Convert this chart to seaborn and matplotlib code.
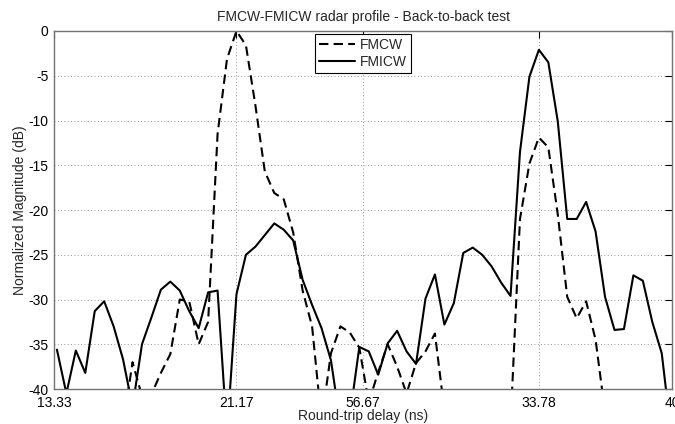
import numpy as np
import pandas as pd
import matplotlib
matplotlib.use("Agg")
import matplotlib.pyplot as plt
import seaborn as sns

# normalized magnitude (dB) per range bin
fmcw = [-46, -44, -47, -45, -48, -46, -44, -44.1, -37.0, -40.8,
        -40.6, -38.2, -36.1, -30.0, -30.2, -35.0, -32.5, -11.5, -3.1, 0.0,
        -1.6, -8.3, -15.7, -18.1, -18.8, -22.5, -29.0, -33.0, -43.6, -36.0,
        -33.0, -33.7, -35.4, -41.5, -38.1, -35.0, -37.5, -40.5, -37.1, -35.8,
        -33.8, -42.4, -47, -45, -48, -46, -47, -45, -44, -21.0,
        -14.8, -11.9, -13.0, -20.5, -29.7, -32.1, -30.2, -34.5, -42.6, -46,
        -44, -47, -45, -48, -46, -47]
fmicw = [-35.6, -40.5, -35.7, -38.2, -31.3, -30.2, -33.0, -36.7, -42.0, -35.0,
         -32.0, -28.9, -28.0, -29.0, -31.3, -33.2, -29.2, -29.0, -45.0, -29.4,
         -25.0, -24.1, -22.8, -21.5, -22.2, -23.4, -27.8, -30.6, -33.2, -36.8,
         -44.0, -43.0, -35.3, -35.8, -38.4, -34.9, -33.5, -35.8, -37.2, -29.9,
         -27.2, -32.8, -30.4, -24.8, -24.2, -25.0, -26.3, -28.1, -29.6, -13.5,
         -5.1, -2.1, -3.5, -10.1, -21.0, -21.0, -19.1, -22.4, -29.7, -33.4,
         -33.3, -27.3, -27.9, -32.5, -36.0, -45.0]

# x ticks in bin units and the labels printed on them
tick_pos = [-0.31, 19, 32.4, 51, 65.09]
tick_labels = ["13.33", "21.17", "56.67", "33.78", "40"]
y_ticks = [0, -5, -10, -15, -20, -25, -30, -35, -40]

df = pd.DataFrame({"bin": np.arange(len(fmcw)), "FMCW": fmcw, "FMICW": fmicw})

sns.set_style("white")
plt.rcParams["font.family"] = ["Liberation Sans", "DejaVu Sans"]
plt.rcParams["axes.unicode_minus"] = False

fig = plt.figure(figsize=(6.75, 4.24), dpi=100)
ax = fig.add_axes([0.08, 0.0825, 0.9156, 0.8444])

sns.lineplot(data=df, x="bin", y="FMCW", ax=ax, color="black", lw=1.5,
             linestyle=(0, (4.5, 2.5)), label="FMCW")
sns.lineplot(data=df, x="bin", y="FMICW", ax=ax, color="black", lw=1.5,
             label="FMICW")

ax.set_xlim(tick_pos[0], tick_pos[-1])
ax.set_ylim(-40, 0)
ax.set_xticks(tick_pos)
ax.set_xticklabels(tick_labels)
ax.set_yticks(y_ticks)
ax.grid(True, linestyle=(0, (1, 3)), color="0.45", lw=0.6)
ax.tick_params(direction="in", length=5, top=True, right=True,
               labelsize=10, colors="black")
ax.tick_params(axis="x", pad=5)
ax.tick_params(axis="y", pad=4)
for s in ax.spines.values():
    s.set_color("0.45")
    s.set_linewidth(1.0)

ax.set_title("FMCW-FMICW radar profile - Back-to-back test", fontsize=10, pad=7)
ax.set_xlabel("Round-trip delay (ns)", fontsize=10, labelpad=-1)
ax.set_ylabel("Normalized Magnitude (dB)", fontsize=10, labelpad=1)

leg = ax.legend(loc="upper center", fontsize=10, frameon=True, fancybox=False,
                edgecolor="black", framealpha=1, borderaxespad=0.2,
                labelspacing=0.2, borderpad=0.3, handlelength=2.6,
                handletextpad=0.3)
leg.get_frame().set_linewidth(0.8)

fig.savefig("out.png", dpi=100)
